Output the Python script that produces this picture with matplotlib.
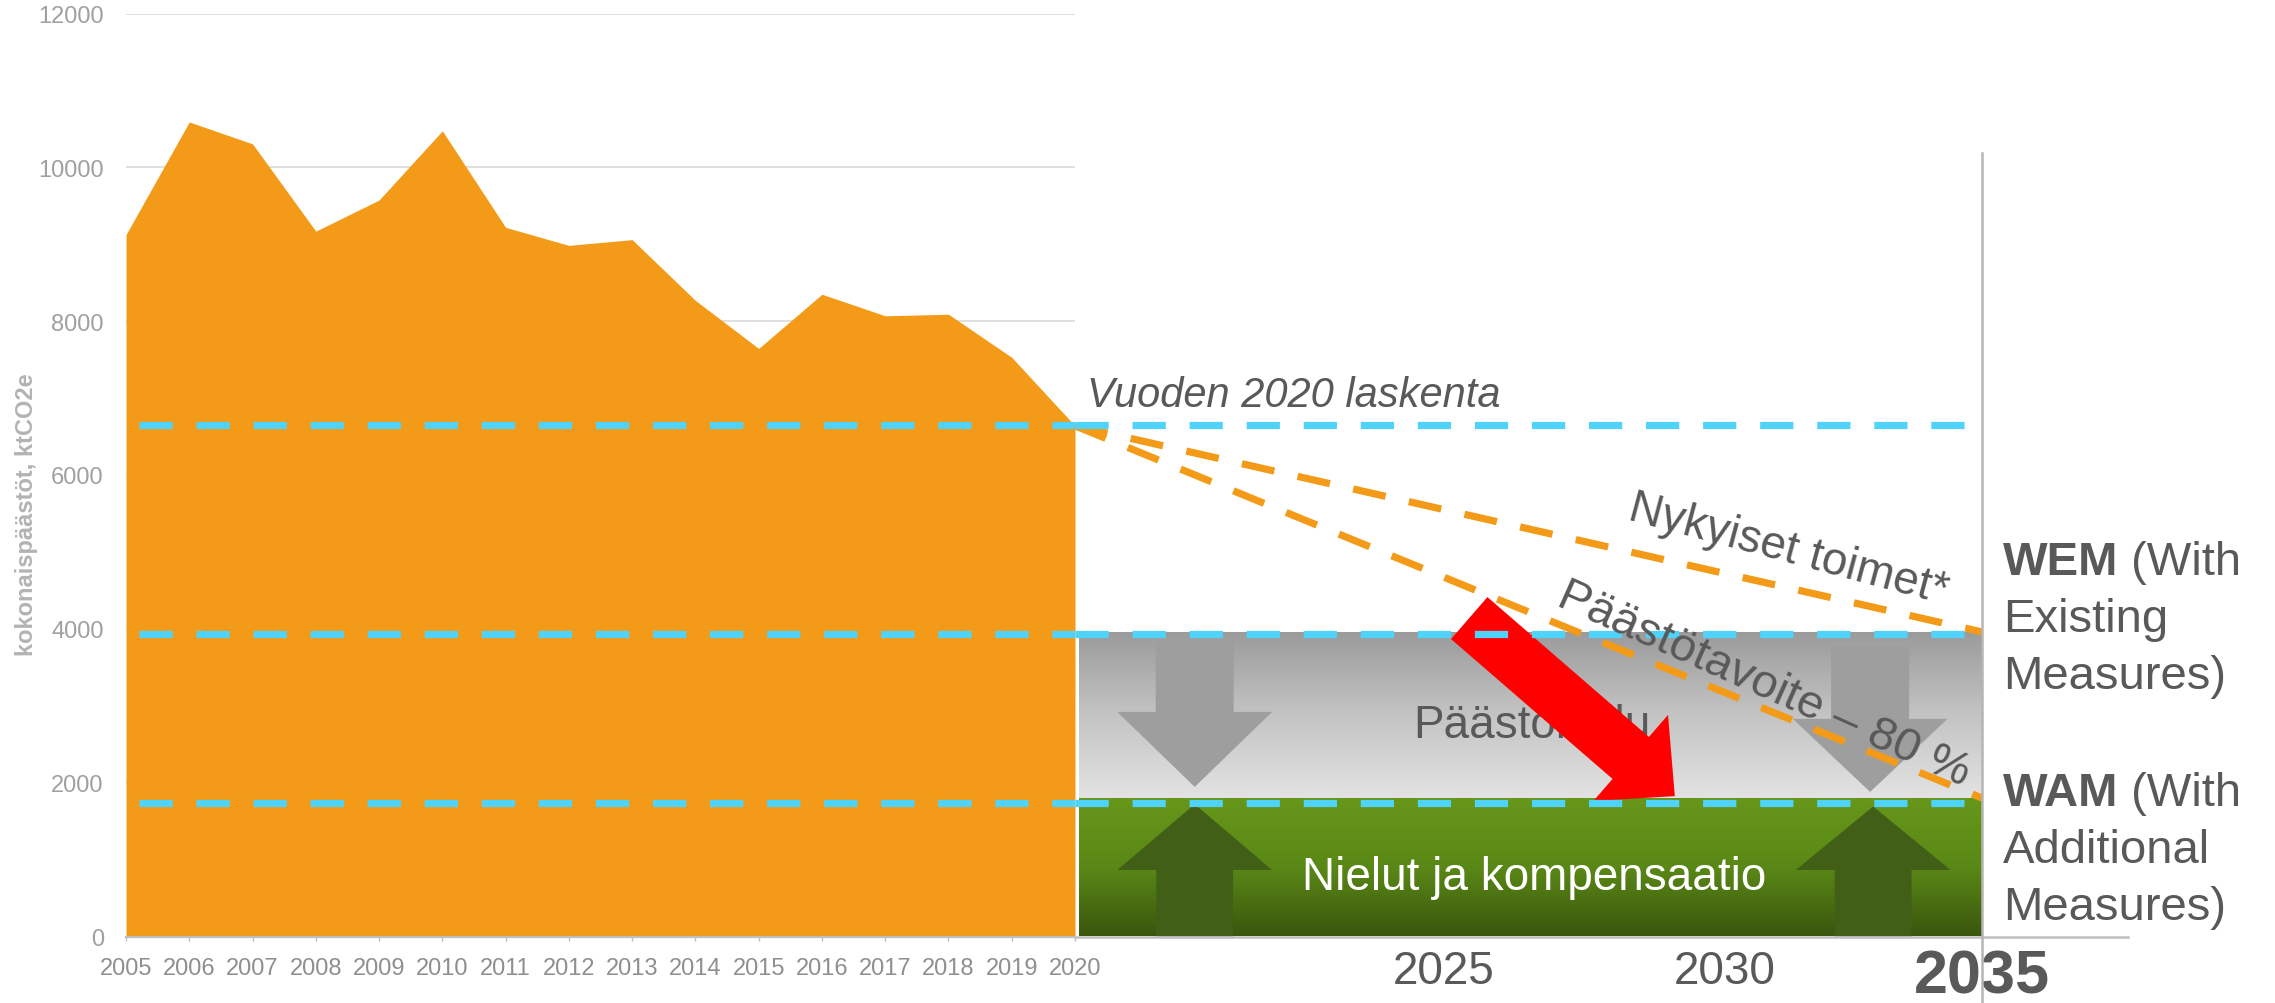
import numpy as np
import matplotlib.pyplot as plt
from matplotlib.patches import FancyArrow, FancyArrowPatch
from matplotlib.colors import LinearSegmentedColormap

plt.rcParams['font.family'] = ['Liberation Sans', 'DejaVu Sans']

# historical emissions (ktCO2e)
years = list(range(2005, 2021))
emissions = [9125, 10590, 10305, 9170, 9575, 10475, 9220, 8985, 9060,
             8270, 7645, 8350, 8070, 8090, 7530, 6640]

# reference levels: 2020 level, WEM 2035, WAM 2035
level_x_left = [2005.2, 2020]
level_x_right = [[2020, 2035], [2020, 2034.7], [2020, 2034.7]]
levels = [6645, 3930, 1740]

# projection paths
proj_years = [2020, 2035]
wem_path = [6640, 3960]
target_path = [6640, 1800]

# emission gap / sinks boxes
gap_top = 3960
gap_bottom = 1790
box_x = [2020.07, 2035]

# schematic arrows
gap_arrow_x = [2021.98, 2033.15]
gap_arrow_top = [3870, 3780]
gap_arrow_tip = [1945, 1880]
gap_arrow_head = [975, 950]
sink_arrow_x = [2021.98, 2033.2]
sink_arrow_tip = [1720, 1690]
sink_arrow_head = [855, 825]
red_arrow_from = (2026.52, 4140)
red_arrow_to = (2029.92, 1825)

proj_tick_pos = [2026.1, 2030.75, 2035]
proj_tick_labels = ['2025', '2030', '2035']

orange = '#f39b18'
cyan = '#4fd3fb'
dark = '#595959'

W, H = 2275, 1004
fig = plt.figure(figsize=(W / 100, H / 100), dpi=100)


def fx(px):
    return px / W


def fy(py):
    return 1 - py / H


# left: history chart
ax = fig.add_axes([fx(126), fy(937.5), fx(1075) - fx(126), fy(14.5) - fy(937.5)])
ax.set_xlim(2005, 2020)
ax.set_ylim(0, 12000)
ax.set_yticks(range(0, 12001, 2000))
ax.set_xticks(years)
ax.grid(axis='y', color='#d9d9d9', lw=1.2)
ax.set_axisbelow(True)
ax.fill_between(years, emissions, 0, color=orange, lw=0, zorder=2)
for lv in levels:
    ax.plot(level_x_left, [lv, lv], color=cyan, lw=5.2, dashes=(4.6, 3.3), zorder=3)
for s in ['top', 'right', 'left']:
    ax.spines[s].set_visible(False)
ax.spines['bottom'].set_color('#bfbfbf')
ax.spines['bottom'].set_linewidth(1.6)
ax.tick_params(axis='y', length=0, pad=16, labelsize=17, labelcolor='#a0a0a0')
ax.tick_params(axis='x', length=3, width=1, color='#bfbfbf', pad=12, labelsize=17, labelcolor='#8f8f8f')

fig.text(fx(27), fy(515), 'kokonaispäästöt, ktCO2e', rotation=90, ha='center', va='center',
         fontsize=17, fontweight='bold', color='#b3b3b3')

# right: schematic projection
ax2 = fig.add_axes([fx(1075), fy(937.5), fx(1982) - fx(1075), fy(14.5) - fy(937.5)])
ax2.patch.set_alpha(0)
for s in ['top', 'right', 'left', 'bottom']:
    ax2.spines[s].set_visible(False)
ax2.set_yticks([])

grad = np.linspace(0, 1, 256).reshape(-1, 1)
gray_cmap = LinearSegmentedColormap.from_list('g', ['#9b9b9b', '#c4c4c4', '#e3e3e3'])
green_cmap = LinearSegmentedColormap.from_list('gr', ['#66971a', '#5a8816', '#3a560d'])
ax2.imshow(grad, cmap=gray_cmap, aspect='auto', extent=[box_x[0], box_x[1], gap_bottom, gap_top],
           origin='upper', zorder=0)
ax2.imshow(grad, cmap=green_cmap, aspect='auto', extent=[box_x[0], box_x[1], 0, gap_bottom],
           origin='upper', zorder=0)
ax2.set_xlim(2020, 2035)
ax2.set_ylim(0, 12000)

for x, top, tip, hl in zip(gap_arrow_x, gap_arrow_top, gap_arrow_tip, gap_arrow_head):
    ax2.add_patch(FancyArrow(x, top, 0, tip - top, width=1.29, head_width=2.56, head_length=hl,
                             length_includes_head=True, color='#9e9e9e', lw=0, zorder=1))
for x, tip, hl in zip(sink_arrow_x, sink_arrow_tip, sink_arrow_head):
    ax2.add_patch(FancyArrow(x, 0, 0, tip, width=1.27, head_width=2.56, head_length=hl,
                             length_includes_head=True, color='#415f17', lw=0, zorder=1))

ax2.text(2027.55, 2600, 'Päästökuilu', ha='center', va='baseline', fontsize=33, color=dark, zorder=2)
ax2.text(2027.6, 620, 'Nielut ja kompensaatio', ha='center', va='baseline', fontsize=33,
         color='white', zorder=6)

ax2.add_patch(FancyArrowPatch(red_arrow_from, red_arrow_to,
                              arrowstyle='simple,head_length=42,head_width=82,tail_width=40',
                              mutation_scale=1, shrinkA=0, shrinkB=0, color='#ff0000', lw=0, zorder=3))

ax2.plot(proj_years, wem_path, color=orange, lw=5.2, dashes=(4.6, 3.3), zorder=4)
ax2.plot(proj_years, target_path, color=orange, lw=5.2, dashes=(4.6, 3.3), zorder=4)
for xs, lv in zip(level_x_right, levels):
    ax2.plot(xs, [lv, lv], color=cyan, lw=5.2, dashes=(4.6, 3.3), zorder=5)

ax2.text(2020.2, 6900, 'Vuoden 2020 laskenta', ha='left', va='baseline', fontsize=30,
         style='italic', color=dark, zorder=6)
ax2.text(2031.8, 5030, 'Nykyiset toimet*', ha='center', va='center', fontsize=33, color=dark,
         rotation=-15, rotation_mode='anchor', zorder=6)
ax2.text(2031.4, 3290, 'Päästötavoite – 80 %', ha='center', va='center', fontsize=34, color=dark,
         rotation=-24, rotation_mode='anchor', zorder=6)

ax2.set_xticks(proj_tick_pos)
ax2.set_xticklabels(proj_tick_labels)
ax2.tick_params(axis='x', length=0, pad=9, labelsize=33, labelcolor=dark)
lab = ax2.get_xticklabels()[-1]
lab.set_fontweight('bold')
lab.set_fontsize(44)

ax2.axhline(0, xmin=0, xmax=(2128 - 1075) / (1982 - 1075), color='#bfbfbf', lw=1.8,
            clip_on=False, zorder=6)
ax2.axvline(2035, ymin=-0.072, ymax=(937.5 - 154) / 923, color='#b5b5b5', lw=1.8,
            clip_on=False, zorder=6)

# scenario labels
tx = fx(2003)
for top_line, rest, base in [('WEM', ['Existing', 'Measures)'], 575),
                             ('WAM', ['Additional', 'Measures)'], 806)]:
    t = fig.text(tx, fy(base), top_line, fontsize=34, fontweight='bold', color=dark, va='baseline')
    ax2.annotate(' (With', xy=(1, 0), xycoords=t, va='bottom', ha='left',
                 fontsize=34, color=dark, annotation_clip=False)
    for i, line in enumerate(rest):
        fig.text(tx, fy(base + 57 * (i + 1)), line, fontsize=34, color=dark, va='baseline')

fig.savefig('out.png', dpi=100)
